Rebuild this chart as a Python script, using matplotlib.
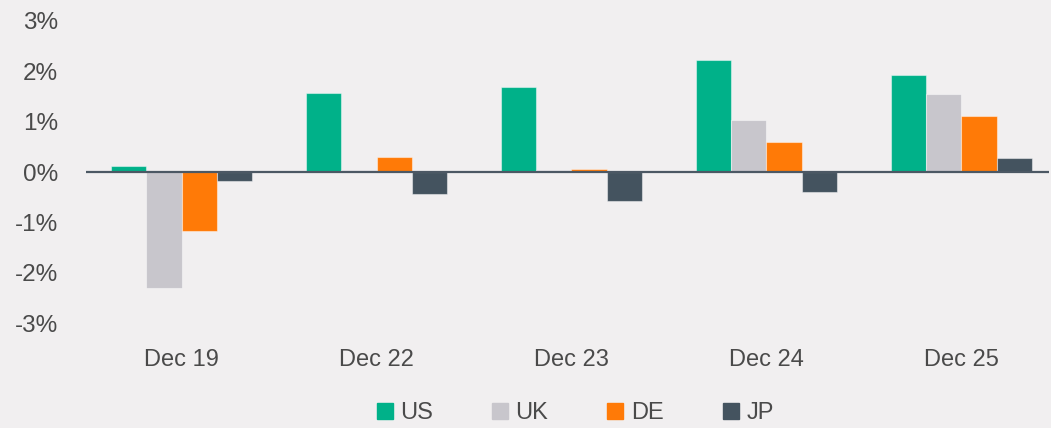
import matplotlib
matplotlib.use("Agg")
import matplotlib.pyplot as plt
from matplotlib.lines import Line2D
import numpy as np

categories = ["Dec 19", "Dec 22", "Dec 23", "Dec 24", "Dec 25"]
series_names = ["US", "UK", "DE", "JP"]
us = [0.12, 1.57, 1.68, 2.22, 1.92]
uk = [-2.29, 0.03, 0.04, 1.04, 1.54]
de = [-1.17, 0.29, 0.06, 0.59, 1.10]
jp = [-0.18, -0.43, -0.58, -0.39, 0.28]
yticks = [-3, -2, -1, 0, 1, 2, 3]
ytick_labels = ["-3%", "-2%", "-1%", "0%", "1%", "2%", "3%"]

colors = ["#00B189", "#C8C6CC", "#FF7A07", "#44535F"]
bg = "#F1EFF0"
text_color = "#4A4A4A"

plt.rcParams["font.family"] = ["Liberation Sans", "DejaVu Sans"]

fig = plt.figure(figsize=(10.51, 4.28), dpi=100, facecolor=bg)
ax = fig.add_axes([0.0818, 0.2206, 0.9165, 0.755], facecolor=bg)

x = np.arange(len(categories))
w = 0.18
data = [us, uk, de, jp]
for i, (vals, c) in enumerate(zip(data, colors)):
    ax.bar(x + (i - 1.5) * w, vals, width=w, color=c,
           edgecolor=(1, 1, 1, 0.45), linewidth=0.8, zorder=2)

ax.axhline(0, color="#4C5864", lw=1.6, zorder=3)

ax.set_xlim(-0.49, 4.45)
ax.set_ylim(-3.2, 3.2)
ax.set_yticks(yticks)
ax.set_yticklabels(ytick_labels)
ax.set_xticks(x)
ax.set_xticklabels(categories)
ax.tick_params(axis="y", length=0, pad=20, labelsize=17.5, labelcolor=text_color)
ax.tick_params(axis="x", length=0, pad=11, labelsize=17, labelcolor=text_color)
for s in ax.spines.values():
    s.set_visible(False)

handles = [Line2D([0], [0], marker="s", linestyle="none", markersize=12,
                  markerfacecolor=c, markeredgecolor=c) for c in colors]
fig.legend(handles, series_names, loc="center", bbox_to_anchor=(0.547, 0.035),
           ncol=4, frameon=False, fontsize=17, labelcolor=text_color,
           handlelength=0.7, handletextpad=0.3, columnspacing=2.5,
           borderaxespad=0)

fig.savefig("out.png", dpi=100, facecolor=bg)
